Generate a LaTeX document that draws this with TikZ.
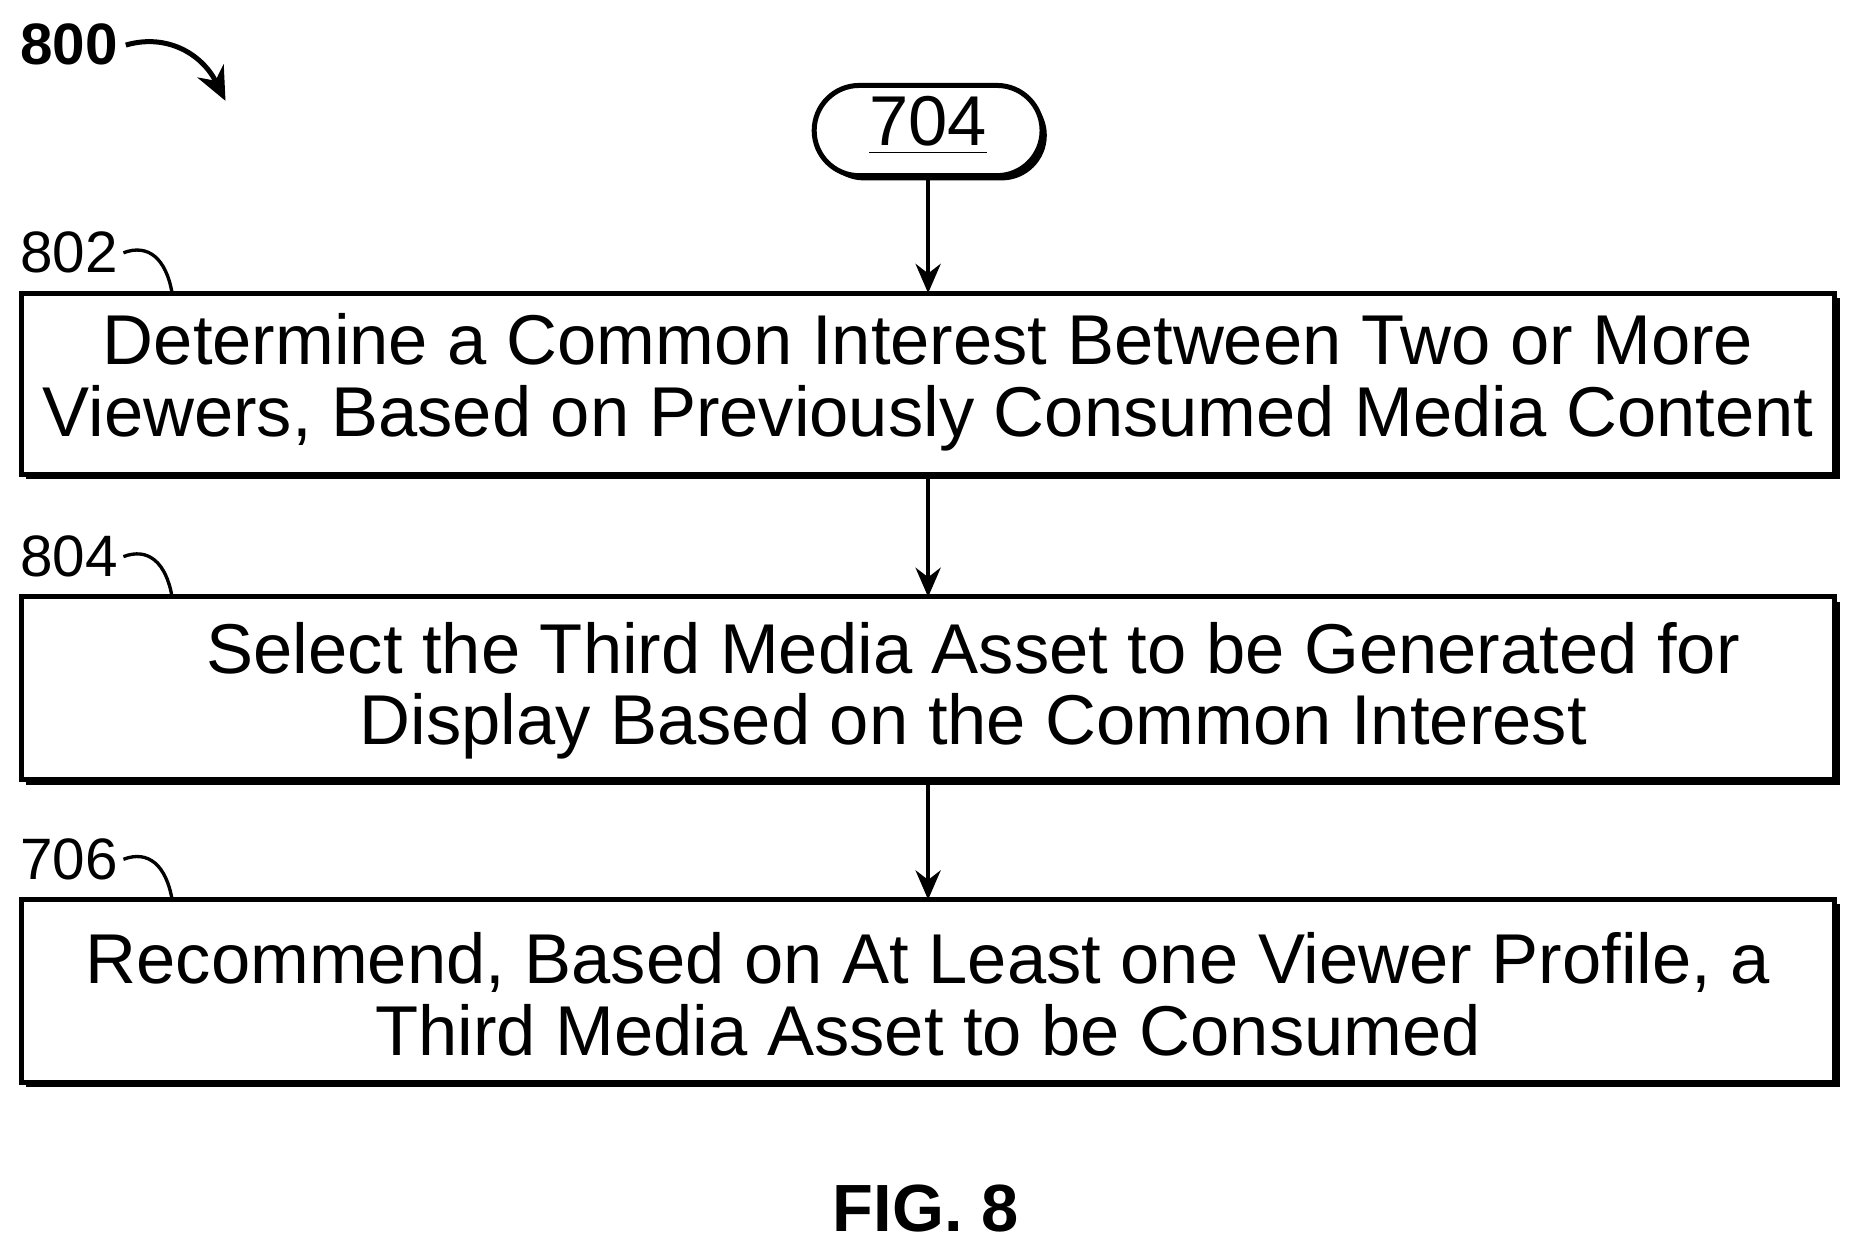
\documentclass[tikz,border=0pt]{standalone}
\usepackage{fontspec}
\setmainfont{Liberation Sans}
\usetikzlibrary{arrows.meta}
\begin{document}
\begin{tikzpicture}[x=0.01cm,y=-0.01cm,
  btxt/.style={font=\fontsize{16.9}{17.2}\selectfont,align=center},
  arr/.style={-{Stealth[length=7pt,width=6pt]},line width=1pt},
  lbl/.style={font=\fontsize{14}{15}\selectfont}]
\useasboundingbox (0,0) rectangle (1568,1055);
\fill[white] (0,0) rectangle (1568,1055);
% shadows
\fill (22,251) rectangle (1550,404);
\fill (22,507) rectangle (1550,661);
\fill (22,762) rectangle (1550,916);
\fill[rounded corners=10.8pt] (690,76) rectangle (882,152);
\draw[line width=1.2pt,fill=white] (18,247) rectangle (1546,400);
\draw[line width=1.2pt,fill=white] (18,503) rectangle (1546,657);
\draw[line width=1.2pt,fill=white] (18,758) rectangle (1546,912);
\draw[line width=1.2pt,fill=white,rounded corners=10.8pt] (686,72) rectangle (878,148);
\node[font=\fontsize{16.9}{17}\selectfont] (t) at (782,106) {\underline{704}};
\node[btxt] (b1) at (782,322) {Determine a Common Interest Between Two or More\\Viewers, Based on Previously Consumed Media Content};
\node[btxt] (b2) at (820,582) {Select the Third Media Asset to be Generated for\\Display Based on the Common Interest};
\node[btxt] (b3) at (782,838) {Recommend, Based on At Least one Viewer Profile, a\\Third Media Asset to be Consumed};
\coordinate (a0) at (782,148); \coordinate (a1) at (782,247);
\coordinate (a2) at (782,404); \coordinate (a3) at (782,503);
\coordinate (a4) at (782,661); \coordinate (a5) at (782,758);
\draw[arr] (a0)--(a1); \draw[arr] (a2)--(a3); \draw[arr] (a4)--(a5);
\foreach \n/\y in {802/213,804/469,706/724}{
  \node[lbl] (l\n) at (58,\y) {\n};
  \draw[line width=0.8pt] (104,\y) .. controls (125,\y-8) and (140,\y+5) .. (145,\y+34);
}
\node[font=\bfseries\fontsize{14}{15}\selectfont] (n800) at (58,37) {800};
\coordinate (e800) at (190,85);
\draw[-{Stealth[length=8pt,width=7pt]},line width=1.2pt] (106,38) .. controls (140,28) and (170,45) .. (e800);
\node[font=\bfseries\fontsize{16}{18}\selectfont] (fig) at (780,1018) {FIG. 8};
\end{tikzpicture}
\end{document}
